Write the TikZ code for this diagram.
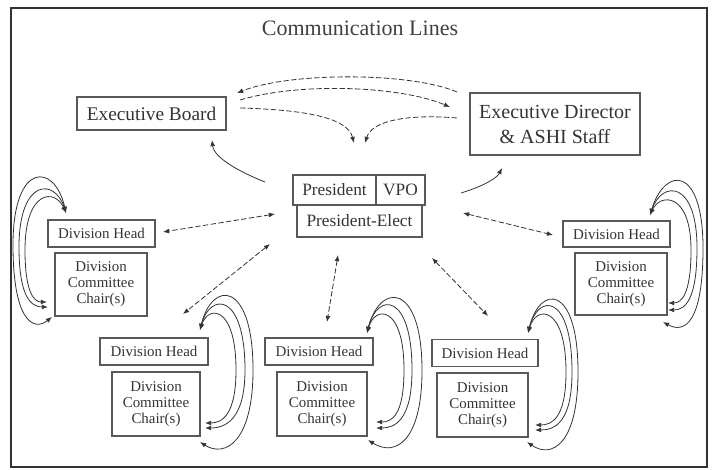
\documentclass[tikz,border=0pt]{standalone}
\usepackage{fontspec}
\setmainfont{Liberation Serif}
\usetikzlibrary{arrows.meta}
\begin{document}
\begin{tikzpicture}[x=0.75pt,y=-0.75pt,
  >={Latex[length=4.6pt,width=3.6pt]},
  box/.style={draw=black!65,line width=1.1pt,inner sep=0pt,align=center,text=black!80},
  bigtxt/.style={font=\fontsize{14.5}{18}\selectfont},
  midtxt/.style={font=\fontsize{13}{16}\selectfont},
  smalltxt/.style={font=\fontsize{11.2}{12}\selectfont},
  dh/.style={box,smalltxt,minimum height=27*0.75pt},
  ch/.style={box,font=\fontsize{11.2}{12}\selectfont,minimum height=64*0.75pt},
  dline/.style={line width=0.6pt,black!80,dash pattern=on 4pt off 1.8pt},
  sline/.style={line width=0.6pt,black!80},
  loopline/.style={line width=0.6pt,black!80,<->}]
\useasboundingbox (0,0) rectangle (713,470);
\draw[line width=1.4pt,black!80] (11,8) rectangle (707,467);
\node[text=black!75,font=\fontsize{16.5}{20}\selectfont] (title) at (360,28) {Communication Lines};
% top boxes
\node[box,bigtxt,minimum width=149*0.75pt,minimum height=33*0.75pt] (eb) at (151.5,113.5) {Executive Board};
\node[box,font=\fontsize{15}{18.75}\selectfont,minimum width=170*0.75pt,minimum height=62*0.75pt] (ed) at (555,124) {Executive Director\\\& ASHI Staff};
\node[box,midtxt,minimum width=83*0.75pt,minimum height=30*0.75pt] (pres) at (334.5,190) {President};
\node[box,midtxt,minimum width=49*0.75pt,minimum height=30*0.75pt] (vpo) at (400.5,190) {VPO};
\node[box,midtxt,minimum width=125*0.75pt,minimum height=32*0.75pt] (pe) at (359.5,221) {President-Elect};
% division groups
\node[dh,minimum width=107*0.75pt] (dhL) at (101.5,233.5) {Division Head};
\node[ch,minimum width=92*0.75pt,minimum height=63*0.75pt] (chL) at (101,284.5) {Division\\Committee\\Chair(s)};
\node[dh,minimum width=107*0.75pt,minimum height=26*0.75pt] (dhR) at (616.5,234) {Division Head};
\node[ch,minimum width=92*0.75pt,minimum height=62*0.75pt] (chR) at (621,284) {Division\\Committee\\Chair(s)};
\node[dh,minimum width=108*0.75pt] (dhBL) at (154,351.5) {Division Head};
\node[ch,minimum width=88*0.75pt] (chBL) at (156,404) {Division\\Committee\\Chair(s)};
\node[dh,minimum width=108*0.75pt] (dhBM) at (319,351.5) {Division Head};
\node[ch,minimum width=90*0.75pt] (chBM) at (322,404) {Division\\Committee\\Chair(s)};
\node[dh,minimum width=106*0.75pt] (dhBR) at (485,353) {Division Head};
\node[ch,minimum width=91*0.75pt] (chBR) at (482.5,405) {Division\\Committee\\Chair(s)};
% connector end points
\coordinate (edA) at (457,92);   \coordinate (ebA) at (237,93);
\coordinate (ebB) at (240,100);  \coordinate (edB) at (450,107);
\coordinate (ebC) at (240,108);  \coordinate (midC) at (354,143);
\coordinate (edD) at (457,118);  \coordinate (midD) at (365,143);
\coordinate (pEB) at (265,182);  \coordinate (ebP) at (212,140);
\coordinate (pED) at (461,193);  \coordinate (edP) at (502,168);
\coordinate (pL) at (275,214);   \coordinate (dL) at (163,232);
\coordinate (pBL) at (270,244);  \coordinate (dBL) at (183,314);
\coordinate (pBM) at (338,255);  \coordinate (dBM) at (327,322);
\coordinate (pBR) at (432,258);  \coordinate (dBR) at (488,316);
\coordinate (pR) at (463,213);   \coordinate (dR) at (553,235);
% executive dashed arcs
\draw[dline,->] (edA) .. controls (410,72) and (290,72) .. (ebA);
\draw[dline,->] (ebB) .. controls (300,82) and (400,86) .. (edB);
\draw[dline,->] (ebC) .. controls (315,110) and (348,120) .. (midC);
\draw[dline,->] (edD) .. controls (410,114) and (372,120) .. (midD);
% president to exec
\draw[sline,->] (pEB) .. controls (240,172) and (214,158) .. (ebP);
\draw[sline,->] (pED) .. controls (484,186) and (497,178) .. (edP);
% president to division heads
\draw[dline,<->] (pL) -- (dL);
\draw[dline,<->] (pBL) -- (dBL);
\draw[dline,<->] (pBM) -- (dBM);
\draw[dline,<->] (pBR) -- (dBR);
\draw[dline,<->] (pR) -- (dR);
% loops left
\coordinate (Lh) at (66,213);
\coordinate (Lc1) at (47,302); \coordinate (Lc2) at (48,307); \coordinate (Lc3) at (52,317);
\draw[loopline] (Lh) .. controls (55,188) and (25,190) .. (25,250) .. controls (25,290) and (33,302) .. (Lc1);
\draw[loopline] (Lh) .. controls (55,178) and (19,178) .. (19,247) .. controls (19,297) and (31,307) .. (Lc2);
\draw[loopline] (Lh) .. controls (55,163) and (13,160) .. (13,245) .. controls (13,320) and (33,332) .. (Lc3);
% loops right
\coordinate (Rh) at (650,215);
\coordinate (Rc1) at (668,303); \coordinate (Rc2) at (668,310); \coordinate (Rc3) at (663,322);
\draw[loopline] (Rh) .. controls (660,193) and (691,192) .. (691,250) .. controls (691,293) and (682,303) .. (Rc1);
\draw[loopline] (Rh) .. controls (662,180) and (697,180) .. (697,248) .. controls (697,300) and (685,310) .. (Rc2);
\draw[loopline] (Rh) .. controls (665,166) and (703,165) .. (703,248) .. controls (703,322) and (685,334) .. (Rc3);
% loops bottom left
\coordinate (BLh) at (200,330);
\coordinate (BLc1) at (205,423); \coordinate (BLc2) at (205,428); \coordinate (BLc3) at (200,442);
\draw[loopline] (BLh) .. controls (208,305) and (236,305) .. (236,370) .. controls (236,415) and (222,423) .. (BLc1);
\draw[loopline] (BLh) .. controls (210,292) and (245,292) .. (245,370) .. controls (245,420) and (225,428) .. (BLc2);
\draw[loopline] (BLh) .. controls (212,280) and (253,280) .. (253,370) .. controls (253,442) and (225,458) .. (BLc3);
% loops bottom middle
\coordinate (BMh) at (367,333);
\coordinate (BMc1) at (376,422); \coordinate (BMc2) at (376,428); \coordinate (BMc3) at (368,440);
\draw[loopline] (BMh) .. controls (375,305) and (404,305) .. (404,370) .. controls (404,415) and (392,422) .. (BMc1);
\draw[loopline] (BMh) .. controls (377,292) and (412,292) .. (412,370) .. controls (412,420) and (395,428) .. (BMc2);
\draw[loopline] (BMh) .. controls (380,282) and (422,282) .. (422,370) .. controls (422,442) and (395,457) .. (BMc3);
% loops bottom right
\coordinate (BRh) at (528,333);
\coordinate (BRc1) at (535,425); \coordinate (BRc2) at (535,430); \coordinate (BRc3) at (527,442);
\draw[loopline] (BRh) .. controls (536,305) and (566,305) .. (566,372) .. controls (566,418) and (552,425) .. (BRc1);
\draw[loopline] (BRh) .. controls (538,293) and (572,293) .. (572,372) .. controls (572,422) and (555,430) .. (BRc2);
\draw[loopline] (BRh) .. controls (540,284) and (578,284) .. (578,372) .. controls (578,444) and (552,459) .. (BRc3);
\end{tikzpicture}
\end{document}
